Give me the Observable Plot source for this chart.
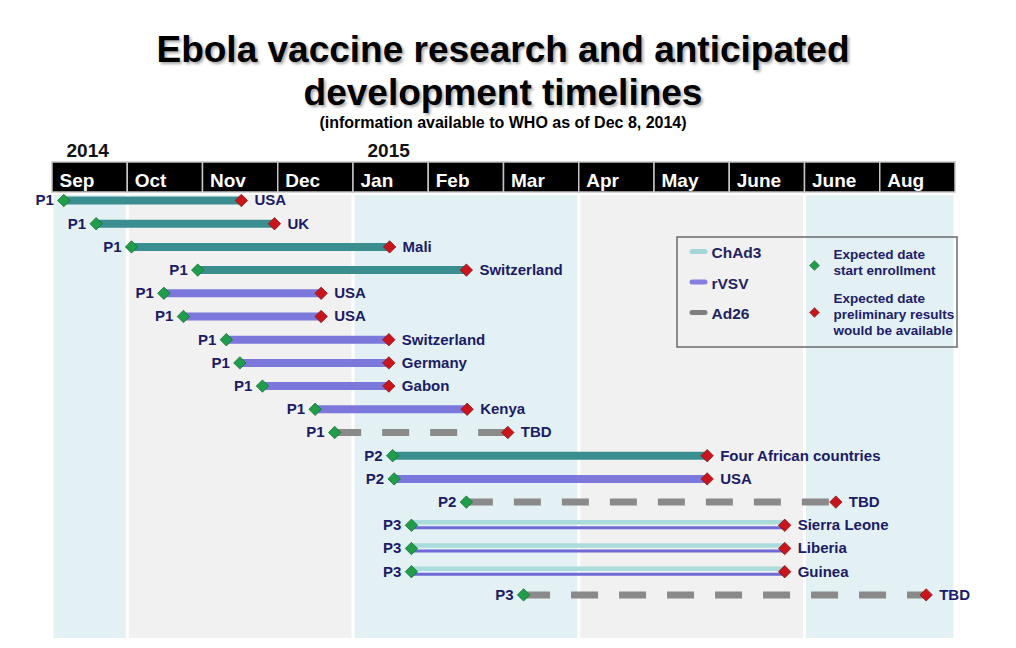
<!DOCTYPE html>
<html>
<head>
<meta charset="utf-8">
<script src="https://cdn.jsdelivr.net/npm/d3@7"></script>
<script src="https://cdn.jsdelivr.net/npm/@observablehq/plot@0.6"></script>
<style>
  html, body { margin: 0; padding: 0; background: #ffffff; }
  #page { position: relative; width: 1016px; height: 648px; overflow: hidden; font-family: "Liberation Sans", Arial, sans-serif; }
  #title { position: absolute; left: 0; top: 28px; width: 1006px; text-align: center; font-size: 37px; line-height: 43px; font-weight: bold; color: #000; text-shadow: 2px 2px 3px rgba(0,0,0,0.35); }
  #subtitle { position: absolute; left: 0; top: 114px; width: 1006px; text-align: center; font-size: 16px; line-height: 18px; font-weight: bold; color: #000; }
  #chart { position: absolute; left: 0; top: 130px; }
</style>
</head>
<body>
<div id="page">
  <div id="title">Ebola vaccine research and anticipated<br>development timelines</div>
  <div id="subtitle">(information available to WHO as of Dec 8, 2014)</div>
  <div id="chart"></div>
</div>
<script>
// ---- data ----
const monthLabels = ["Sep","Oct","Nov","Dec","Jan","Feb","Mar","Apr","May","June","June","Aug"];
const yearLabels = ["2014","2015"];
const yearStartMonth = [0, 4];
const bandStart = [0, 1, 4, 7, 10];
const bandEnd = [1, 4, 7, 10, 12];
const bandShade = ["blue","gray","blue","gray","blue"];

const phases = ["P1","P1","P1","P1","P1","P1","P1","P1","P1","P1","P1","P2","P2","P2","P3","P3","P3","P3"];
const sites = ["USA","UK","Mali","Switzerland","USA","USA","Switzerland","Germany","Gabon","Kenya","TBD","Four African countries","USA","TBD","Sierra Leone","Liberia","Guinea","TBD"];
const vaccines = ["ChAd3","ChAd3","ChAd3","ChAd3","rVSV","rVSV","rVSV","rVSV","rVSV","rVSV","Ad26","ChAd3","rVSV","Ad26","ChAd3+rVSV","ChAd3+rVSV","ChAd3+rVSV","Ad26"];
// months elapsed since 1 Sep 2014
const startMonths = [0.15,0.58,1.05,1.93,1.48,1.74,2.31,2.49,2.79,3.49,3.75,4.52,4.54,5.50,4.77,4.77,4.77,6.26];
const endMonths   = [2.51,2.95,4.48,5.50,3.57,3.57,4.47,4.47,4.47,5.51,6.05,8.70,8.70,10.41,9.73,9.73,9.73,11.61];

const legendVaccines = ["ChAd3","rVSV","Ad26"];
const legendMarkers = ["Expected date\nstart enrollment","Expected date\npreliminary results\nwould be available"];

// ---- layout helpers ----
const X0 = 52, X1 = 955;           // svg px of month 0 and month 12
const Y0 = 70, ROW = 23.2;         // svg px of row 0 and row step
const xAt = px => (px - X0) / (X1 - X0) * 12;
const yAt = py => (py - Y0) / ROW;

const rows = phases.map((p, i) => ({row: i, phase: p, site: sites[i], vaccine: vaccines[i], start: startMonths[i], end: endMonths[i]}));
const bands = bandStart.map((s, i) => ({s, e: bandEnd[i], shade: bandShade[i]}));

const navy = "#1b1b66";
const green = "#1f9d4a", red = "#c9151c";
const legendColor = {"ChAd3": "#a3d6d6", "rVSV": "#8580df", "Ad26": "#7f7f7f"};
const legendY = [121, 151.5, 182];
const markerY = [135, 182];
const markerTextY = [144, 204];

const plot = Plot.plot({
  width: 1016,
  height: 518,
  margin: 0,
  x: {domain: [0, 12], range: [X0, X1], axis: null},
  y: {domain: [0, 17], range: [Y0, Y0 + 17 * ROW], axis: null},
  style: {fontFamily: "Liberation Sans, Arial, sans-serif", background: "transparent", overflow: "visible"},
  marks: [
    // background column bands
    Plot.rect(bands, {x1: "s", x2: "e", y1: yAt(65), y2: yAt(508), insetLeft: 1.5, insetRight: 1.5,
      fill: d => d.shade === "blue" ? "#e3f1f4" : "#f1f1f1"}),
    // month header
    Plot.rect(monthLabels, {x1: (d, i) => i, x2: (d, i) => i + 1, y1: yAt(32), y2: yAt(62), fill: "#000", stroke: "#c4c4c4", strokeWidth: 1.5}),
    Plot.text(monthLabels, {x: (d, i) => i, y: yAt(56), text: d => d, textAnchor: "start", lineAnchor: "bottom", dx: 7,
      fill: "#fff", fontSize: 19, fontWeight: "bold"}),
    // years
    Plot.text(yearLabels, {x: (d, i) => yearStartMonth[i], y: yAt(26), text: d => d, textAnchor: "start", lineAnchor: "bottom", dx: 14,
      fill: "#111", fontSize: 19, fontWeight: "bold"}),
    // bars
    Plot.ruleY(rows.filter(d => d.vaccine === "ChAd3"), {y: "row", x1: "start", x2: "end", stroke: "#3b8e90", strokeWidth: 8}),
    Plot.ruleY(rows.filter(d => d.vaccine === "rVSV"), {y: "row", x1: "start", x2: "end", stroke: "#7b77db", strokeWidth: 8}),
    Plot.ruleY(rows.filter(d => d.vaccine === "Ad26"), {y: "row", x1: "start", x2: "end", stroke: "#8a8a8a", strokeWidth: 7, strokeDasharray: "27,21"}),
    Plot.ruleY(rows.filter(d => d.vaccine === "ChAd3+rVSV"), {y: "row", x1: "start", x2: "end", stroke: "#aadcdc", strokeWidth: 4.5, dy: -3}),
    Plot.ruleY(rows.filter(d => d.vaccine === "ChAd3+rVSV"), {y: "row", x1: "start", x2: "end", stroke: "#6e69d4", strokeWidth: 3, dy: 2.5}),
    // markers
    Plot.dot(rows, {x: "start", y: "row", symbol: "diamond2", r: 5.6, fill: green, stroke: "#0c6a2a", strokeWidth: 0.7}),
    Plot.dot(rows, {x: "end", y: "row", symbol: "diamond2", r: 5.6, fill: red, stroke: "#7c0d10", strokeWidth: 0.7}),
    // labels
    Plot.text(rows, {x: "start", y: "row", text: "phase", textAnchor: "end", dx: -10, fontSize: 15, fontWeight: "bold", fill: navy}),
    Plot.text(rows, {x: "end", y: "row", text: "site", textAnchor: "start", dx: 13, fontSize: 15, fontWeight: "bold", fill: navy}),
    // legend
    Plot.rect([0], {x1: xAt(677), x2: xAt(957), y1: yAt(107), y2: yAt(217), fill: "none", stroke: "#6a6a6a", strokeWidth: 1.5}),
    Plot.ruleY(legendVaccines, {x1: xAt(692), x2: xAt(705), y: (d, i) => yAt(legendY[i]), stroke: d => legendColor[d], strokeWidth: 5, strokeLinecap: "round"}),
    Plot.text(legendVaccines, {x: xAt(711), y: (d, i) => yAt(legendY[i] + 2), text: d => d, textAnchor: "start", fontSize: 15.5, fontWeight: "bold", fill: "#23235e"}),
    Plot.dot(legendMarkers, {x: xAt(814), y: (d, i) => yAt(markerY[i]), symbol: "diamond2", r: 4.6, fill: (d, i) => i === 0 ? green : red, stroke: "#555", strokeWidth: 0.5}),
    Plot.text(legendMarkers, {x: xAt(833), y: (d, i) => yAt(markerTextY[i]), text: d => d, textAnchor: "start", lineAnchor: "bottom", lineHeight: 1.15,
      fontSize: 13.5, fontWeight: "bold", fill: "#20206a"})
  ]
});
document.getElementById("chart").appendChild(plot);
</script>
</body>
</html>
